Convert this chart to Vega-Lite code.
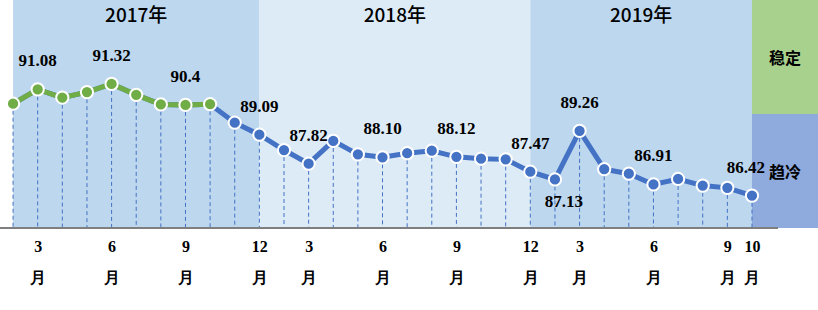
{
  "$schema": "https://vega.github.io/schema/vega-lite/v6.json",
  "width": 818,
  "height": 228,
  "padding": {"left": 0, "top": 0, "right": 0, "bottom": 82},
  "autosize": {"type": "none"},
  "background": "#ffffff",
  "config": {"view": {"stroke": null}},
  "datasets": {
    "series": [
      {"idx": 0, "period": "2017-02", "value": 90.45, "phase": "稳定", "label": ""},
      {"idx": 1, "period": "2017-03", "value": 91.08, "phase": "稳定", "label": "91.08"},
      {"idx": 2, "period": "2017-04", "value": 90.72, "phase": "稳定", "label": ""},
      {"idx": 3, "period": "2017-05", "value": 90.96, "phase": "稳定", "label": ""},
      {"idx": 4, "period": "2017-06", "value": 91.32, "phase": "稳定", "label": "91.32"},
      {"idx": 5, "period": "2017-07", "value": 90.84, "phase": "稳定", "label": ""},
      {"idx": 6, "period": "2017-08", "value": 90.42, "phase": "稳定", "label": ""},
      {"idx": 7, "period": "2017-09", "value": 90.40, "phase": "稳定", "label": "90.4"},
      {"idx": 8, "period": "2017-10", "value": 90.43, "phase": "稳定", "label": ""},
      {"idx": 9, "period": "2017-11", "value": 89.62, "phase": "趋冷", "label": ""},
      {"idx": 10, "period": "2017-12", "value": 89.09, "phase": "趋冷", "label": "89.09"},
      {"idx": 11, "period": "2018-02", "value": 88.42, "phase": "趋冷", "label": ""},
      {"idx": 12, "period": "2018-03", "value": 87.82, "phase": "趋冷", "label": "87.82"},
      {"idx": 13, "period": "2018-04", "value": 88.82, "phase": "趋冷", "label": ""},
      {"idx": 14, "period": "2018-05", "value": 88.23, "phase": "趋冷", "label": ""},
      {"idx": 15, "period": "2018-06", "value": 88.10, "phase": "趋冷", "label": "88.10"},
      {"idx": 16, "period": "2018-07", "value": 88.28, "phase": "趋冷", "label": ""},
      {"idx": 17, "period": "2018-08", "value": 88.39, "phase": "趋冷", "label": ""},
      {"idx": 18, "period": "2018-09", "value": 88.12, "phase": "趋冷", "label": "88.12"},
      {"idx": 19, "period": "2018-10", "value": 88.04, "phase": "趋冷", "label": ""},
      {"idx": 20, "period": "2018-11", "value": 88.01, "phase": "趋冷", "label": ""},
      {"idx": 21, "period": "2018-12", "value": 87.47, "phase": "趋冷", "label": "87.47"},
      {"idx": 22, "period": "2019-02", "value": 87.13, "phase": "趋冷", "label": "87.13"},
      {"idx": 23, "period": "2019-03", "value": 89.26, "phase": "趋冷", "label": "89.26"},
      {"idx": 24, "period": "2019-04", "value": 87.58, "phase": "趋冷", "label": ""},
      {"idx": 25, "period": "2019-05", "value": 87.38, "phase": "趋冷", "label": ""},
      {"idx": 26, "period": "2019-06", "value": 86.91, "phase": "趋冷", "label": "86.91"},
      {"idx": 27, "period": "2019-07", "value": 87.15, "phase": "趋冷", "label": ""},
      {"idx": 28, "period": "2019-08", "value": 86.86, "phase": "趋冷", "label": ""},
      {"idx": 29, "period": "2019-09", "value": 86.76, "phase": "趋冷", "label": ""},
      {"idx": 30, "period": "2019-10", "value": 86.42, "phase": "趋冷", "label": "86.42"}
    ],
    "years": [
      {"year": "2017年", "start": 0, "end": 10, "mid": 5, "shade": "a"},
      {"year": "2018年", "start": 10, "end": 21, "mid": 15.5, "shade": "b"},
      {"year": "2019年", "start": 21, "end": 30, "mid": 25.5, "shade": "a"}
    ],
    "zones": [
      {"status": "稳定", "start": 30, "end": 33, "lo": 90, "hi": 95},
      {"status": "趋冷", "start": 30, "end": 33, "lo": 85, "hi": 90}
    ]
  },
  "layer": [
    {
      "data": {"name": "years"},
      "mark": {"type": "rect", "clip": true},
      "encoding": {
        "x": {"field": "start", "type": "quantitative", "scale": {"domain": [-0.53, 32.68], "nice": false, "zero": false},
              "axis": {"values": [1, 4, 7, 10, 12, 15, 18, 21, 23, 26, 29, 30], "domain": false, "ticks": false, "grid": false, "title": null,
                       "labelExpr": "[['3','6','9','12','3','6','9','12','3','6','9','10'][indexof([1,4,7,10,12,15,18,21,23,26,29,30], datum.value)], '月']",
                       "labelFont": "Liberation Serif", "labelFontWeight": "bold", "labelFontSize": 16, "labelColor": "#000000",
                       "labelLineHeight": 31, "labelPadding": 10, "labelBaseline": "top", "labelOverlap": false, "labelFlush": false}},
        "x2": {"field": "end"},
        "y": {"datum": 85, "type": "quantitative", "scale": {"domain": [85, 95], "nice": false, "zero": false}, "axis": null},
        "y2": {"datum": 95},
        "color": {"field": "shade", "type": "nominal", "scale": {"domain": ["a", "b"], "range": ["#BDD7EE", "#DDEBF7"]}, "legend": null}
      }
    },
    {
      "data": {"name": "zones"},
      "mark": {"type": "rect", "clip": true},
      "encoding": {
        "x": {"field": "start", "type": "quantitative"},
        "x2": {"field": "end"},
        "y": {"field": "lo", "type": "quantitative"},
        "y2": {"field": "hi"},
        "fill": {"field": "status", "type": "nominal", "scale": {"domain": ["稳定", "趋冷"], "range": ["#A9D18E", "#8FAADC"]}, "legend": null}
      }
    },
    {
      "data": {"name": "zones"},
      "mark": {"type": "text", "font": "Noto Sans CJK SC", "fontWeight": "bold", "fontSize": 16, "color": "#000000", "align": "center", "baseline": "middle", "dx": 33, "dy": 59},
      "encoding": {
        "x": {"field": "start", "type": "quantitative"},
        "y": {"field": "hi", "type": "quantitative"},
        "text": {"field": "status"}
      }
    },
    {
      "data": {"name": "years"},
      "mark": {"type": "text", "font": "Noto Sans CJK SC", "fontWeight": 500, "fontSize": 19, "color": "#000000", "align": "center", "baseline": "middle", "dy": 16},
      "encoding": {
        "x": {"field": "mid", "type": "quantitative"},
        "y": {"datum": 95, "type": "quantitative"},
        "text": {"field": "year"}
      }
    },
    {
      "data": {"name": "series"},
      "mark": {"type": "rule", "color": "#4472C4", "strokeDash": [4, 3], "strokeWidth": 1},
      "encoding": {
        "x": {"field": "idx", "type": "quantitative"},
        "y": {"field": "value", "type": "quantitative"},
        "y2": {"datum": 85}
      }
    },
    {
      "data": {"name": "series"},
      "mark": {"type": "rule", "color": "#7F7F7F", "strokeWidth": 1.5},
      "encoding": {
        "x": {"datum": -0.53, "type": "quantitative"},
        "x2": {"datum": 31.05},
        "y": {"datum": 85, "type": "quantitative"}
      }
    },
    {
      "data": {"name": "series"},
      "mark": {"type": "line", "color": "#4472C4", "strokeWidth": 5},
      "encoding": {
        "x": {"field": "idx", "type": "quantitative"},
        "y": {"field": "value", "type": "quantitative"}
      }
    },
    {
      "data": {"name": "series"},
      "transform": [{"filter": "datum.phase == '稳定'"}],
      "mark": {"type": "line", "color": "#70AD47", "strokeWidth": 5},
      "encoding": {
        "x": {"field": "idx", "type": "quantitative"},
        "y": {"field": "value", "type": "quantitative"}
      }
    },
    {
      "data": {"name": "series"},
      "mark": {"type": "point", "filled": true, "size": 150, "stroke": "#ffffff", "strokeWidth": 2, "opacity": 1, "strokeOpacity": 1},
      "encoding": {
        "x": {"field": "idx", "type": "quantitative"},
        "y": {"field": "value", "type": "quantitative"},
        "fill": {"field": "phase", "type": "nominal", "scale": {"domain": ["稳定", "趋冷"], "range": ["#70AD47", "#4472C4"]}, "legend": null}
      }
    },
    {
      "data": {"name": "series"},
      "transform": [{"filter": "datum.label != '' && datum.label != '87.13' && datum.label != '86.42'"}],
      "mark": {"type": "text", "font": "Liberation Serif", "fontWeight": "bold", "fontSize": 17, "color": "#000000", "align": "center", "baseline": "middle", "dy": -28},
      "encoding": {
        "x": {"field": "idx", "type": "quantitative"},
        "y": {"field": "value", "type": "quantitative"},
        "text": {"field": "label"}
      }
    },
    {
      "data": {"name": "series"},
      "transform": [{"filter": "datum.label == '86.42'"}],
      "mark": {"type": "text", "font": "Liberation Serif", "fontWeight": "bold", "fontSize": 17, "color": "#000000", "align": "center", "baseline": "middle", "dy": -28, "dx": -6},
      "encoding": {
        "x": {"field": "idx", "type": "quantitative"},
        "y": {"field": "value", "type": "quantitative"},
        "text": {"field": "label"}
      }
    },
    {
      "data": {"name": "series"},
      "transform": [{"filter": "datum.label == '87.13'"}],
      "mark": {"type": "text", "font": "Liberation Serif", "fontWeight": "bold", "fontSize": 17, "color": "#000000", "align": "center", "baseline": "middle", "dy": 23, "dx": 9},
      "encoding": {
        "x": {"field": "idx", "type": "quantitative"},
        "y": {"field": "value", "type": "quantitative"},
        "text": {"field": "label"}
      }
    }
  ],
  "resolve": {"scale": {"color": "independent", "fill": "independent"}}
}
